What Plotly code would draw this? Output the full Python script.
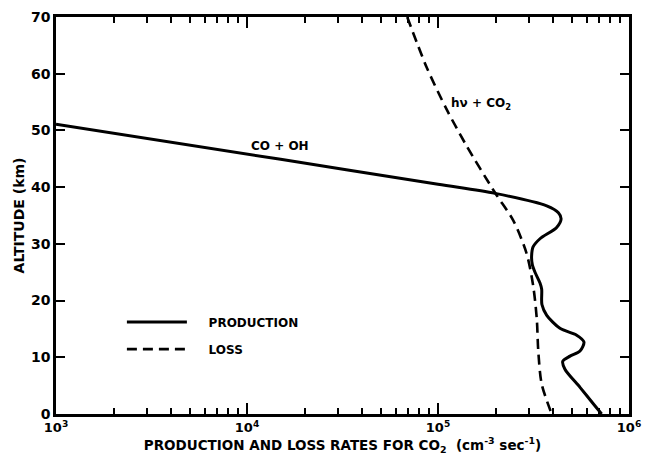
import plotly.graph_objects as go

# Production rate (CO + OH) vs altitude
prod_rate = [1.0e3, 1.5e4, 1.0e5, 1.99e5, 3.71e5, 4.27e5, 4.41e5, 4.18e5, 3.42e5, 3.15e5,
             3.09e5, 3.12e5, 3.22e5, 3.42e5, 3.49e5, 3.50e5, 3.71e5, 4.35e5, 5.32e5, 5.81e5,
             5.54e5, 4.91e5, 4.50e5, 4.62e5, 5.54e5, 6.50e5, 7.19e5]
prod_alt = [51.1, 44.9, 40.5, 38.9, 36.7, 35.5, 34.4, 32.9, 30.9, 29.5,
            27.7, 26.3, 25.0, 23.1, 22.0, 19.3, 17.4, 15.1, 13.9, 12.7,
            11.1, 10.2, 9.3, 7.9, 4.7, 1.8, 0.0]

# Loss rate (hv + CO2) vs altitude
loss_rate = [6.9e4, 8.73e4, 1.11e5, 1.41e5, 1.99e5, 2.48e5, 2.91e5, 3.15e5, 3.29e5, 3.35e5, 3.49e5, 3.94e5]
loss_alt = [70.0, 61.1, 53.7, 47.3, 39.0, 34.1, 28.3, 22.6, 16.8, 11.1, 5.3, 0.0]

x_tickvals = [1e3, 1e4, 1e5, 1e6]
x_ticktext = ["10<sup>3</sup>", "10<sup>4</sup>", "10<sup>5</sup>", "10<sup>6</sup>"]
x_minor = [m * 10 ** e for e in (3, 4, 5) for m in range(2, 10)]
y_tickvals = [0, 10, 20, 30, 40, 50, 60, 70]

FONT = "DejaVu Sans, Liberation Sans, sans-serif"
NB = "\u00a0" * 4

fig = go.Figure()
fig.add_trace(go.Scatter(x=prod_rate, y=prod_alt, mode="lines", name=NB + "PRODUCTION",
                         line=dict(color="black", width=3, shape="spline", smoothing=0.8),
                         legendgroup="p"))
fig.add_trace(go.Scatter(x=loss_rate, y=loss_alt, mode="lines", name=NB + "LOSS",
                         line=dict(color="black", width=2.6, dash="10px,6px", shape="spline", smoothing=0.8),
                         legendgroup="l"))

fig.add_annotation(x=4.173, y=47.2, text="CO + OH", showarrow=False,
                   font=dict(family=FONT, size=12, color="black", weight="bold"))
fig.add_annotation(x=5.225, y=54.6, text="hν + CO<sub>2</sub>", showarrow=False,
                   font=dict(family=FONT, size=12, color="black", weight="bold"))

fig.update_xaxes(type="log", range=[3, 6], tickvals=x_tickvals, ticktext=x_ticktext,
                 ticks="inside", ticklen=11, tickwidth=1.5, tickcolor="black",
                 minor=dict(tickvals=x_minor, ticks="inside", ticklen=6, tickwidth=1.5, tickcolor="black"),
                 showline=True, linecolor="black", linewidth=2.5, mirror="ticks",
                 showgrid=False, zeroline=False,
                 tickfont=dict(family=FONT, size=13, color="black", weight="bold"),
                 title=dict(text="PRODUCTION AND LOSS RATES FOR CO<sub>2</sub>  (cm<sup>-3</sup> sec<sup>-1</sup>)",
                            font=dict(family=FONT, size=13.5, color="black", weight="bold"), standoff=2))
fig.update_yaxes(range=[0, 70], tickvals=y_tickvals,
                 ticks="inside", ticklen=9, tickwidth=1.5, tickcolor="black",
                 showline=True, linecolor="black", linewidth=2.5, mirror="ticks",
                 showgrid=False, zeroline=False,
                 tickfont=dict(family=FONT, size=14, color="black", weight="bold"),
                 title=dict(text="ALTITUDE (km)",
                            font=dict(family=FONT, size=14, color="black", weight="bold"), standoff=4))

fig.update_layout(
    width=651, height=460,
    margin=dict(l=56, r=22, t=9, b=46),
    plot_bgcolor="white", paper_bgcolor="white",
    showlegend=True,
    legend=dict(x=0.115, y=0.268, xanchor="left", yanchor="top", bgcolor="rgba(0,0,0,0)",
                itemwidth=60, tracegroupgap=8,
                font=dict(family=FONT, size=12, color="black", weight="bold")),
)

fig.write_html("out.html")
